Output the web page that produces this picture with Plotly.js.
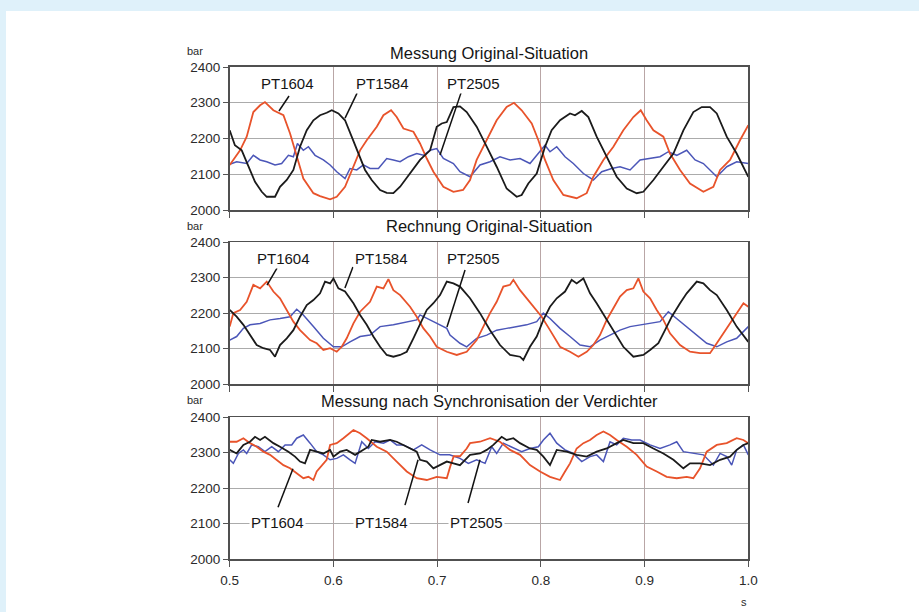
<!DOCTYPE html>
<html>
<head>
<meta charset="utf-8">
<script src="https://cdn.plot.ly/plotly-3.0.1.min.js"></script>
<style>
  html, body { margin: 0; padding: 0; background: #ffffff; }
  #chart { width: 919px; height: 612px; }
</style>
</head>
<body>
<div id="chart"></div>
<script>
// ---------- Panel 1: Messung Original-Situation ----------
const m1604_t = [0.5,0.510,0.5164,0.5228,0.5293,0.534,0.5421,0.5518,0.5582,0.5646,0.571,0.5807,0.5871,0.5968,0.6032,0.6112,0.6193,0.6257,0.6321,0.6418,0.6482,0.6556,0.661,0.6675,0.6771,0.6835,0.69,0.6964,0.706,0.7157,0.725,0.7317,0.7381,0.7478,0.7574,0.767,0.7741,0.7815,0.7912,0.7976,0.804,0.812,0.8217,0.8345,0.8442,0.8506,0.8603,0.8699,0.8795,0.8892,0.8963,0.902,0.9085,0.9181,0.9245,0.9342,0.9438,0.9567,0.9663,0.9728,0.9824,0.992,1.0];
const m1604_p = [2126,2167,2205,2274,2293,2302,2279,2265,2214,2149,2088,2047,2039,2030,2037,2065,2121,2167,2195,2233,2265,2279,2260,2228,2219,2186,2144,2107,2065,2051,2056,2084,2140,2195,2251,2288,2300,2279,2242,2195,2140,2084,2042,2033,2047,2093,2140,2177,2223,2260,2279,2251,2223,2205,2158,2112,2074,2051,2065,2112,2140,2195,2237];

const m1584_t = [0.5,0.505,0.5116,0.518,0.5244,0.5309,0.5357,0.5437,0.5485,0.555,0.5614,0.5678,0.5743,0.5807,0.5871,0.5935,0.5984,0.6048,0.6112,0.6176,0.6241,0.6305,0.6369,0.645,0.6514,0.6578,0.6643,0.6739,0.6835,0.6932,0.6996,0.7044,0.7093,0.7157,0.722,0.7285,0.7381,0.7478,0.7574,0.767,0.7767,0.7815,0.7879,0.796,0.804,0.8104,0.8185,0.8281,0.8329,0.8394,0.8458,0.8538,0.8635,0.8731,0.8828,0.8924,0.8988,0.9085,0.9181,0.9278,0.9374,0.947,0.9551,0.9631,0.9696,0.9792,0.9888,1.0];
const m1584_p = [2223,2181,2167,2121,2079,2051,2037,2037,2065,2084,2112,2177,2223,2251,2265,2272,2279,2270,2251,2205,2158,2112,2084,2056,2048,2047,2065,2102,2140,2167,2233,2242,2246,2288,2290,2274,2233,2177,2121,2060,2037,2042,2074,2102,2177,2223,2251,2270,2265,2277,2260,2205,2149,2093,2060,2047,2051,2084,2121,2158,2223,2274,2288,2288,2270,2205,2158,2093];

const m2505_t = [0.5,0.5067,0.5164,0.5228,0.5293,0.5357,0.5437,0.5501,0.5566,0.5614,0.5653,0.571,0.5759,0.5823,0.5903,0.5968,0.6032,0.6112,0.616,0.6225,0.6289,0.6353,0.6434,0.6514,0.6578,0.6643,0.6723,0.6803,0.6868,0.6932,0.6996,0.706,0.7157,0.722,0.7317,0.7413,0.751,0.7606,0.7703,0.7799,0.7895,0.7976,0.804,0.8088,0.8153,0.8233,0.8313,0.841,0.8506,0.8587,0.8683,0.8763,0.886,0.8956,0.9053,0.9149,0.9229,0.931,0.9406,0.9487,0.9567,0.9696,0.9792,0.9888,1.0];
const m2505_p = [2128,2135,2130,2153,2140,2135,2126,2130,2153,2149,2186,2167,2177,2153,2140,2126,2107,2088,2116,2112,2126,2116,2116,2144,2140,2135,2149,2158,2153,2167,2172,2144,2130,2107,2093,2126,2135,2149,2140,2144,2130,2158,2181,2163,2177,2149,2130,2102,2084,2107,2116,2121,2112,2140,2144,2149,2163,2153,2167,2140,2130,2093,2121,2135,2130];

// ---------- Panel 2: Rechnung Original-Situation ----------
const r1604_t = [0.5,0.5035,0.51,0.5164,0.5228,0.5293,0.5357,0.5421,0.5485,0.555,0.5614,0.5678,0.5775,0.5839,0.5903,0.5968,0.6032,0.608,0.6128,0.6193,0.6257,0.6353,0.6418,0.6482,0.653,0.6578,0.6643,0.6739,0.6803,0.6868,0.6932,0.6996,0.7093,0.7189,0.7285,0.7381,0.7445,0.751,0.7574,0.7638,0.7703,0.7735,0.7799,0.7863,0.7928,0.8008,0.8088,0.8185,0.8281,0.8362,0.8442,0.8506,0.857,0.8635,0.8699,0.8763,0.8828,0.8892,0.894,0.8988,0.9053,0.9117,0.9181,0.9245,0.9342,0.9438,0.9535,0.9631,0.9696,0.976,0.9824,0.9888,0.9953,1.0];
const r1604_p = [2162,2200,2209,2232,2280,2270,2289,2261,2242,2209,2176,2152,2124,2115,2096,2101,2091,2105,2129,2171,2204,2232,2275,2270,2296,2265,2251,2218,2190,2157,2134,2105,2091,2082,2091,2124,2162,2200,2232,2275,2280,2294,2265,2242,2218,2190,2152,2105,2091,2077,2091,2110,2138,2181,2214,2247,2265,2270,2298,2261,2242,2209,2181,2143,2110,2091,2087,2087,2115,2143,2171,2200,2228,2218];

const r1584_t = [0.5,0.5067,0.5132,0.5196,0.526,0.5325,0.5389,0.5437,0.5485,0.555,0.5614,0.5678,0.5743,0.5807,0.5871,0.5919,0.5968,0.6,0.6048,0.6112,0.6193,0.6257,0.6321,0.6385,0.645,0.6514,0.6578,0.6643,0.6707,0.6771,0.6835,0.69,0.6964,0.7028,0.7093,0.7157,0.722,0.7317,0.7413,0.751,0.7606,0.7703,0.7799,0.7831,0.7895,0.796,0.8024,0.8088,0.8153,0.8233,0.8297,0.8345,0.841,0.8474,0.8538,0.8619,0.8699,0.8795,0.8892,0.8988,0.9053,0.9133,0.9197,0.9262,0.9342,0.9406,0.9503,0.9567,0.9631,0.9696,0.9792,0.9888,1.0];
const r1584_p = [2209,2190,2167,2138,2110,2101,2096,2077,2110,2129,2152,2190,2223,2237,2256,2289,2284,2298,2270,2261,2228,2195,2167,2134,2105,2082,2077,2082,2091,2129,2167,2209,2228,2251,2289,2284,2275,2242,2200,2152,2110,2082,2077,2068,2105,2134,2181,2218,2242,2261,2294,2284,2298,2256,2228,2190,2152,2105,2077,2082,2096,2115,2152,2190,2228,2256,2289,2284,2265,2251,2209,2162,2119];

const r2505_t = [0.5,0.5067,0.5132,0.5196,0.5293,0.5389,0.5485,0.5582,0.5646,0.571,0.5807,0.5903,0.6,0.608,0.616,0.6257,0.6353,0.645,0.6578,0.6707,0.6803,0.6835,0.69,0.6996,0.7093,0.7124,0.722,0.7285,0.7381,0.7478,0.7574,0.767,0.7767,0.7863,0.796,0.8024,0.8088,0.8185,0.8281,0.8378,0.8474,0.857,0.8667,0.8763,0.886,0.8956,0.9053,0.9149,0.9229,0.931,0.9406,0.9503,0.9599,0.9696,0.9792,0.9888,1.0];
const r2505_p = [2124,2134,2157,2167,2171,2181,2185,2190,2211,2195,2162,2129,2105,2105,2119,2134,2138,2162,2167,2176,2181,2195,2185,2171,2157,2138,2115,2105,2129,2138,2152,2157,2162,2167,2176,2200,2185,2157,2134,2110,2105,2124,2138,2152,2162,2167,2171,2176,2204,2185,2162,2138,2115,2105,2119,2129,2162];

// ---------- Panel 3: Messung nach Synchronisation der Verdichter ----------
const s1604_t = [0.5,0.5067,0.5132,0.5196,0.526,0.5325,0.5389,0.5453,0.5518,0.5582,0.5646,0.571,0.5759,0.5807,0.5839,0.5887,0.5935,0.5968,0.6032,0.6096,0.6193,0.6257,0.6321,0.6418,0.6514,0.661,0.6707,0.6803,0.69,0.6996,0.7093,0.7125,0.716,0.722,0.7285,0.7317,0.7413,0.751,0.7606,0.7703,0.7799,0.7895,0.7992,0.8088,0.8185,0.8233,0.8281,0.8345,0.841,0.8474,0.8538,0.8603,0.8667,0.8731,0.8828,0.8924,0.902,0.9117,0.9213,0.931,0.9406,0.947,0.9535,0.9599,0.9696,0.9792,0.9888,0.9953,1.0];
const s1604_p = [2331,2331,2341,2327,2317,2303,2294,2280,2265,2256,2242,2228,2232,2223,2247,2265,2280,2322,2327,2341,2364,2355,2341,2317,2303,2275,2247,2228,2223,2232,2228,2260,2290,2290,2312,2327,2331,2341,2331,2308,2294,2265,2247,2232,2223,2247,2270,2312,2327,2336,2350,2360,2350,2336,2317,2294,2261,2247,2232,2228,2232,2228,2256,2303,2322,2327,2341,2336,2327];

const s1584_t = [0.5,0.5067,0.5132,0.5196,0.5244,0.5293,0.534,0.5421,0.5485,0.5566,0.563,0.5678,0.5726,0.5775,0.5839,0.5903,0.5968,0.6,0.6064,0.6128,0.6209,0.6289,0.6337,0.6369,0.645,0.6546,0.661,0.6707,0.6803,0.6835,0.69,0.6964,0.7028,0.7093,0.7157,0.722,0.7317,0.7413,0.7478,0.7542,0.7622,0.767,0.7735,0.7799,0.7895,0.796,0.8024,0.8088,0.8153,0.8249,0.8345,0.8442,0.8538,0.8635,0.8731,0.8795,0.8892,0.8988,0.9085,0.9181,0.9278,0.9374,0.9438,0.9535,0.9631,0.9728,0.9824,0.9888,0.9953,1.0];
const s1584_p = [2308,2298,2322,2331,2345,2336,2345,2327,2317,2303,2289,2275,2270,2308,2303,2298,2308,2289,2303,2308,2294,2308,2317,2336,2331,2336,2331,2317,2303,2280,2275,2256,2265,2275,2270,2265,2294,2298,2308,2322,2345,2336,2341,2327,2312,2308,2289,2265,2308,2303,2294,2289,2303,2312,2327,2336,2327,2327,2312,2298,2280,2256,2270,2270,2265,2280,2289,2308,2322,2327];

const s2505_t = [0.5,0.5035,0.5084,0.5132,0.5164,0.5212,0.5276,0.534,0.5405,0.5469,0.5534,0.5598,0.5646,0.571,0.5775,0.5839,0.5903,0.5968,0.6032,0.6096,0.616,0.6209,0.6273,0.6337,0.6401,0.6482,0.6546,0.661,0.6675,0.6771,0.6851,0.6932,0.7028,0.7093,0.712,0.722,0.7301,0.7381,0.7462,0.7526,0.7574,0.7638,0.7719,0.7815,0.7895,0.7976,0.8024,0.8088,0.8153,0.8233,0.8313,0.8394,0.8474,0.8538,0.8603,0.8667,0.8731,0.8795,0.8876,0.8956,0.9053,0.9149,0.9245,0.931,0.9374,0.947,0.9567,0.9663,0.9728,0.9792,0.984,0.9888,0.9953,1.0];
const s2505_p = [2280,2270,2298,2308,2298,2322,2317,2303,2317,2303,2322,2322,2341,2350,2327,2303,2294,2280,2284,2294,2280,2270,2331,2312,2331,2327,2336,2322,2322,2308,2322,2308,2294,2294,2294,2284,2270,2280,2270,2317,2298,2327,2317,2303,2312,2317,2336,2355,2327,2308,2298,2275,2289,2294,2275,2331,2322,2341,2336,2336,2322,2312,2322,2331,2303,2298,2294,2265,2298,2289,2265,2308,2322,2294];

// ---------- Texts ----------
const panelTitles = ['Messung Original-Situation', 'Rechnung Original-Situation', 'Messung nach Synchronisation der Verdichter'];
const seriesNames = ['PT1604', 'PT1584', 'PT2505'];
const xTickVals = [0.5, 0.6, 0.7, 0.8, 0.9, 1.0];
const xTickText = ['0.5', '0.6', '0.7', '0.8', '0.9', '1.0'];
const yTickVals = [2000, 2100, 2200, 2300, 2400];
const unitY = 'bar';
const unitX = 's';

// ---------- Styling ----------
const RED = '#e8532b', BLUE = '#4b56b8', BLACK = '#1b1b1b';
const FONT = 'Liberation Sans, Arial, Helvetica, sans-serif';
const W = 919, H = 612;
const px = v => v / W;
const py = v => 1 - v / H;

const panels = [
  { data: [[m2505_t, m2505_p], [m1604_t, m1604_p], [m1584_t, m1584_p]], top: 67, bot: 210 },
  { data: [[r2505_t, r2505_p], [r1604_t, r1604_p], [r1584_t, r1584_p]], top: 242.3, bot: 384 },
  { data: [[s2505_t, s2505_p], [s1604_t, s1604_p], [s1584_t, s1584_p]], top: 417.3, bot: 559 }
];
const colors = [BLUE, RED, BLACK];
const widths = [1.5, 1.8, 1.8];
const names = [seriesNames[2], seriesNames[0], seriesNames[1]];

const traces = [];
panels.forEach((p, i) => {
  const sfx = i === 0 ? '' : String(i + 1);
  p.data.forEach((d, k) => {
    traces.push({
      type: 'scatter', mode: 'lines', x: d[0], y: d[1], name: names[k],
      xaxis: 'x' + sfx, yaxis: 'y' + sfx,
      line: { color: colors[k], width: widths[k] },
      hoverinfo: 'skip', showlegend: false
    });
  });
});

const layout = {
  width: W, height: H,
  margin: { l: 0, r: 0, t: 0, b: 0 },
  paper_bgcolor: '#dff1fa',
  plot_bgcolor: '#ffffff',
  showlegend: false,
  font: { family: FONT, color: '#2a2a2a', size: 13 },
  shapes: [
    { type: 'rect', xref: 'paper', yref: 'paper', x0: px(6), x1: 1, y0: 0, y1: py(11),
      fillcolor: '#ffffff', line: { width: 0 }, layer: 'below' }
  ],
  annotations: []
};

const xDom = [px(229.7), px(748.3)];
panels.forEach((p, i) => {
  const sfx = i === 0 ? '' : String(i + 1);
  layout['xaxis' + sfx] = {
    domain: xDom, anchor: 'y' + sfx, range: [0.5, 1.0],
    tickvals: xTickVals, ticktext: xTickText, showticklabels: i === 2,
    ticks: 'outside', ticklen: 6, tickcolor: '#555555', tickwidth: 1,
    showgrid: true, gridcolor: '#b9a6a6', gridwidth: 1,
    showline: true, mirror: true, linecolor: '#505050', linewidth: 1.6,
    zeroline: false, fixedrange: true,
    tickfont: { family: FONT, size: 13.5, color: '#2a2a2a' }, ticklabelstandoff: 2
  };
  layout['yaxis' + sfx] = {
    domain: [py(p.bot), py(p.top)], anchor: 'x' + sfx, range: [2000, 2400],
    tickvals: yTickVals, ticks: 'outside', ticklen: 5, tickcolor: '#555555', tickwidth: 1,
    showgrid: true, gridcolor: '#ababab', gridwidth: 1,
    showline: true, mirror: true, linecolor: '#505050', linewidth: 1.6,
    zeroline: false, fixedrange: true,
    tickfont: { family: FONT, size: 13.5, color: '#2a2a2a' }
  };
});

// titles and unit labels
const titleY = [53, 226, 401];
const barY = [51, 226, 400];
panelTitles.forEach((t, i) => {
  layout.annotations.push({ xref: 'paper', yref: 'paper', x: px(489), y: py(titleY[i]),
    text: t, showarrow: false, xanchor: 'center', yanchor: 'middle',
    font: { family: FONT, size: 16.5, color: '#151515' } });
  layout.annotations.push({ xref: 'paper', yref: 'paper', x: px(195), y: py(barY[i]),
    text: unitY, showarrow: false, xanchor: 'center', yanchor: 'middle',
    font: { family: FONT, size: 11, color: '#2a2a2a' } });
});
layout.annotations.push({ xref: 'paper', yref: 'paper', x: px(744), y: py(602),
  text: unitX, showarrow: false, xanchor: 'center', yanchor: 'middle',
  font: { family: FONT, size: 11, color: '#2a2a2a' } });

// series labels with leader lines (data coordinates)
const labels = [
  // panel, name index, text x, text y, line x0, y0, x1, y1
  [0, 0, 0.5553, 2355, 0.5572, 2319, 0.5475, 2277],
  [0, 1, 0.6469, 2355, 0.6228, 2327, 0.6112, 2257],
  [0, 2, 0.7346, 2355, 0.7240, 2336, 0.7028, 2154],
  [1, 0, 0.5514, 2353, 0.5456, 2327, 0.5360, 2279],
  [1, 1, 0.6468, 2353, 0.6188, 2330, 0.6111, 2271],
  [1, 2, 0.7346, 2353, 0.7269, 2322, 0.7095, 2161],
  [2, 0, 0.5456, 2102, 0.5466, 2146, 0.5610, 2255],
  [2, 1, 0.6468, 2104, 0.6690, 2152, 0.6816, 2280],
  [2, 2, 0.7384, 2104, 0.7298, 2158, 0.7413, 2280]
];
labels.forEach(l => {
  const sfx = l[0] === 0 ? '' : String(l[0] + 1);
  layout.shapes.push({ type: 'line', xref: 'x' + sfx, yref: 'y' + sfx,
    x0: l[4], y0: l[5], x1: l[6], y1: l[7], line: { color: '#111111', width: 1.5 } });
  layout.annotations.push({ xref: 'x' + sfx, yref: 'y' + sfx, x: l[2], y: l[3],
    text: seriesNames[l[1]], showarrow: false, xanchor: 'center', yanchor: 'middle',
    bgcolor: '#ffffff', borderpad: 1,
    font: { family: FONT, size: 15, color: '#151515' } });
});

Plotly.newPlot('chart', traces, layout, { displayModeBar: false, staticPlot: true });
</script>
</body>
</html>
